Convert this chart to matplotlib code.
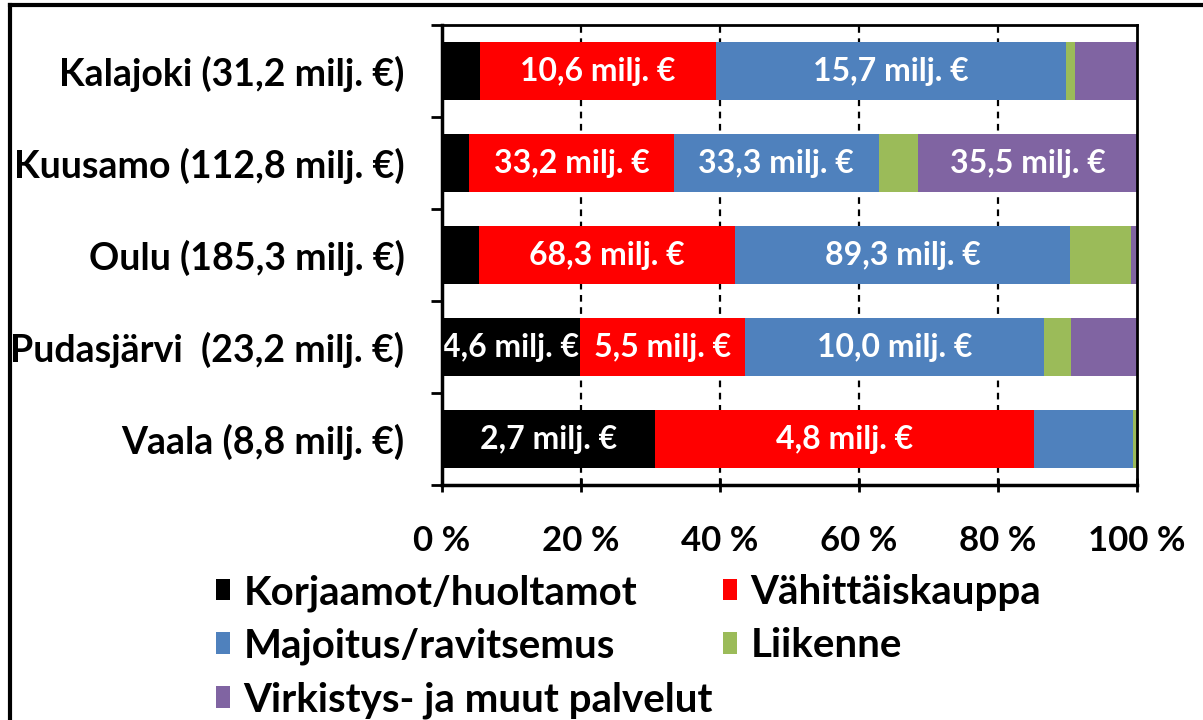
import matplotlib
matplotlib.use("Agg")
import matplotlib.pyplot as plt
from matplotlib.lines import Line2D
from matplotlib.patches import Patch
import numpy as np

plt.rcParams['font.family'] = ['Lato', 'DejaVu Sans']
plt.rcParams['font.weight'] = 'bold'

categories = ["Kalajoki (31,2 milj. €)", "Kuusamo (112,8 milj. €)", "Oulu (185,3 milj. €)",
              "Pudasjärvi  (23,2 milj. €)", "Vaala (8,8 milj. €)"]
series_names = ["Korjaamot/huoltamot", "Vähittäiskauppa", "Majoitus/ravitsemus",
                "Liikenne", "Virkistys- ja muut palvelut"]
korjaamot = [1.7, 4.4, 9.9, 4.6, 2.7]
vahittaiskauppa = [10.6, 33.2, 68.3, 5.5, 4.8]
majoitus = [15.7, 33.3, 89.3, 10.0, 1.25]
liikenne = [0.4, 6.4, 16.3, 0.9, 0.05]
virkistys = [2.8, 35.5, 1.5, 2.2, 0.0]
xtick_values = [0, 20, 40, 60, 80, 100]
xtick_labels = ["0 %", "20 %", "40 %", "60 %", "80 %", "100 %"]

colors = ["#000000", "#FF0000", "#4F81BD", "#9BBB59", "#8064A2"]
series = [korjaamot, vahittaiskauppa, majoitus, liikenne, virkistys]

data = np.array(series, dtype=float)
totals = data.sum(axis=0)
pct = data / totals * 100

fig = plt.figure(figsize=(12.03, 7.2), dpi=100)
ax = fig.add_axes([442/1203, 1-485/720, (1137-442)/1203, (485-25)/720])

y = np.arange(len(categories))
left = np.zeros(len(categories))
handles = []
for i, (name, col) in enumerate(zip(series_names, colors)):
    ax.barh(y, pct[i], left=left, height=0.62, color=col, zorder=3, linewidth=0)
    for j in range(len(categories)):
        if pct[i, j] >= 15:
            txt = f"{data[i, j]:.1f}".replace('.', ',') + " milj. €"
            ax.text(left[j] + pct[i, j] / 2, y[j], txt, ha='center', va='center',
                    color='white', fontsize=23, fontweight='bold', zorder=4)
    left += pct[i]
    handles.append(Patch(facecolor=col, edgecolor='none', label=name))

ax.set_xlim(0, 100)
ax.set_ylim(len(categories) - 0.5, -0.5)
ax.set_xticks(xtick_values)
ax.set_xticklabels(xtick_labels)
ax.set_yticks(y)
ax.set_yticklabels(categories)
ax.set_yticks(np.arange(len(categories) + 1) - 0.5, minor=True)
ax.tick_params(axis='y', which='major', length=0, pad=27, labelsize=27)
ax.tick_params(axis='y', which='minor', length=8, width=2, direction='out')
ax.tick_params(axis='x', which='major', length=10, width=2, direction='inout', pad=24, labelsize=25)
ax.set_xticks([], minor=True)

for xv in xtick_values[1:-1]:
    ax.axvline(xv, color='black', linestyle=(0, (3, 2.5)), linewidth=1.6, zorder=2)

for s in ['left', 'bottom']:
    ax.spines[s].set_linewidth(2.5)
for s in ['top', 'right']:
    ax.spines[s].set_linewidth(2.0)
for s in ax.spines.values():
    s.set_zorder(5)

order = [0, 2, 4, 1, 3]
leg = fig.legend([handles[k] for k in order], [series_names[k] for k in order],
                 loc='upper left', bbox_to_anchor=(216/1203, 1-574/720), ncol=2,
                 frameon=False, fontsize=29, handlelength=0.35, handleheight=0.45,
                 handletextpad=0.33, labelspacing=0.40, columnspacing=0.25,
                 borderaxespad=0, borderpad=0)

# outer frame (top and left visible)
fig.add_artist(Line2D([10/1203, 1.0], [1-5/720, 1-5/720], color='black', linewidth=3,
                      transform=fig.transFigure))
fig.add_artist(Line2D([10/1203, 10/1203], [0, 1-5/720], color='black', linewidth=3,
                      transform=fig.transFigure))

fig.savefig("out.png", dpi=100)
